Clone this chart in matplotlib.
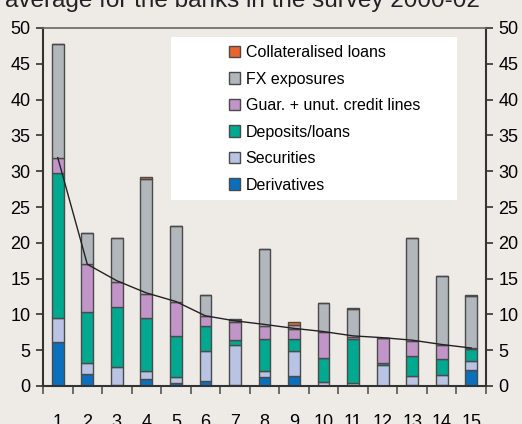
import matplotlib
matplotlib.use("Agg")
import matplotlib.pyplot as plt
from matplotlib.patches import Rectangle, Patch
import numpy as np

plt.rcParams["font.family"] = ["Liberation Sans", "DejaVu Sans"]

banks = list(range(1, 16))
derivatives = [6.1, 1.7, 0.1, 1.0, 0.4, 0.75, 0.1, 1.25, 1.4, 0.05, 0.05, 0.05, 0.1, 0.1, 2.2]
securities = [3.35, 1.55, 2.5, 1.05, 0.8, 4.1, 5.6, 0.9, 3.45, 0.45, 0.3, 2.85, 1.35, 1.5, 1.35]
deposits = [20.25, 7.15, 8.5, 7.4, 5.8, 3.5, 0.7, 4.4, 1.7, 3.4, 6.15, 0.25, 2.8, 2.15, 1.65]
guarantees = [2.2, 6.6, 3.4, 3.4, 4.7, 1.45, 2.6, 1.85, 1.35, 3.7, 0.35, 3.55, 2.0, 1.95, 0.05]
fx = [15.8, 4.4, 6.2, 16.05, 10.7, 2.85, 0.15, 10.8, 0.55, 4.0, 3.85, 0.0, 14.45, 9.7, 7.3]
collateral = [0, 0, 0, 0.3, 0, 0, 0.25, 0, 0.5, 0, 0.15, 0, 0, 0, 0.1]
avg_line = [31.9, 17.0, 14.7, 13.0, 11.8, 9.8, 9.1, 8.6, 8.05, 7.6, 7.0, 6.75, 6.4, 5.8, 5.3]

series = [
    ("Derivatives", derivatives, "#0a6fbd"),
    ("Securities", securities, "#b9c3e3"),
    ("Deposits/loans", deposits, "#00a98f"),
    ("Guar. + unut. credit lines", guarantees, "#c295c9"),
    ("FX exposures", fx, "#b2b7bc"),
    ("Collateralised loans", collateral, "#e8662e"),
]

bg = "#eeebe6"
fig = plt.figure(figsize=(5.22, 4.24), dpi=100, facecolor=bg)
ax = fig.add_axes([43 / 522, 1 - 386 / 424, 443 / 522, 358 / 424])
ax.set_facecolor(bg)

x = np.array(banks)
bottom = np.zeros(len(banks))
handles = []
for name, vals, col in series:
    vals = np.array(vals)
    ax.bar(x, vals, width=0.4, bottom=bottom, color=col, edgecolor="#4a4a4a", linewidth=1.0, zorder=2)
    bottom += vals
    handles.append(Patch(facecolor=col, edgecolor="#4a4a4a", linewidth=1.0, label=name))

ax.plot(x, avg_line, color="#222222", linewidth=1.0, zorder=3)

ax.set_xlim(0.5, 15.5)
ax.set_ylim(0, 50)
ax.set_yticks(np.arange(0, 51, 5))
ax.set_xticks(np.arange(0.5, 15.6, 1))
ax.set_xticklabels([])
ax.set_xticks(x, minor=True)
ax.set_xticklabels([str(b) for b in banks], minor=True)
ax.tick_params(axis="x", which="major", direction="out", length=6, width=1.2, color="#555555")
ax.tick_params(axis="x", which="minor", length=0, pad=20, labelsize=13)
ax.tick_params(axis="y", direction="out", length=5, width=1.2, color="#333333", labelsize=13,
               pad=4, left=True, right=True, labelleft=True, labelright=True)
for s in ["left", "right", "bottom"]:
    ax.spines[s].set_color("#333333")
    ax.spines[s].set_linewidth(1.5)
ax.spines["top"].set_color("#666666")
ax.spines["top"].set_linewidth(1.2)

# white legend panel
ax.add_patch(Rectangle((0.289, 0.52), 0.646, 0.455, transform=ax.transAxes,
                       facecolor="white", edgecolor="none", zorder=4))
leg = ax.legend(handles=handles[::-1], loc="upper left", bbox_to_anchor=(0.405, 0.97),
                frameon=False, fontsize=11.5, handlelength=0.7, handleheight=0.7,
                handletextpad=0.35, labelspacing=0.72, borderaxespad=0)
leg.set_zorder(5)

fig.text(0.01, 1 - 6.5 / 424, "average for the banks in the survey 2000-02", fontsize=17.5,
         va="baseline", ha="left", color="#222222")

fig.savefig("out.png", dpi=100, facecolor=bg)
